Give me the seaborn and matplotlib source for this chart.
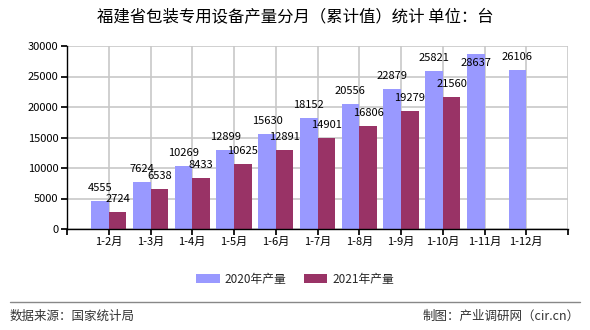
import matplotlib
matplotlib.use("Agg")
import matplotlib.pyplot as plt
import seaborn as sns
import pandas as pd
import numpy as np

categories = ["1-2月", "1-3月", "1-4月", "1-5月", "1-6月", "1-7月", "1-8月", "1-9月", "1-10月", "1-11月", "1-12月"]
values_2020 = [4555, 7624, 10269, 12899, 15630, 18152, 20556, 22879, 25821, 28637, 26106]
values_2021 = [2724, 6538, 8433, 10625, 12891, 14901, 16806, 19279, 21560, None, None]
series_names = ["2020年产量", "2021年产量"]
yticks = [0, 5000, 10000, 15000, 20000, 25000, 30000]

sns.set_theme(style="white")
plt.rcParams['font.family'] = ['Noto Sans CJK SC', 'DejaVu Sans']

df = pd.DataFrame({
    "cat": categories * 2,
    "val": [np.nan if v is None else v for v in values_2020 + values_2021],
    "series": [series_names[0]] * len(categories) + [series_names[1]] * len(categories),
})

fig = plt.figure(figsize=(5.9, 3.3), dpi=100)
ax = fig.add_axes([67/590, 101/330, 501/590, 183/330])
sns.barplot(data=df, x="cat", y="val", hue="series", order=categories,
            hue_order=series_names, palette=["#9999FF", "#993366"],
            width=0.84, ax=ax, legend=True, saturation=1, errorbar=None, linewidth=0, zorder=2)

n = len(categories)
ax.set_xlim(-1, n)
ax.set_ylim(0, 30000)
ax.set_yticks(yticks)
ax.set_yticklabels([str(t) for t in yticks], fontsize=8)
ax.set_xticks(range(-1, n + 1))
ax.set_xticklabels([""] + categories + [""], fontsize=8)
ax.set_xlabel("")
ax.set_ylabel("")
for s in ["top", "right"]:
    ax.spines[s].set_visible(False)
for s in ["left", "bottom"]:
    ax.spines[s].set_color("black")
    ax.spines[s].set_linewidth(1)
    ax.spines[s].set_zorder(3)
ax.tick_params(axis="both", which="both", length=4, color="black", pad=2, bottom=True, left=True,
               labelcolor="black")

# grid lines (drawn below the bars)
grid_color = "#c8c8c8"
for xt in ax.get_xticks():
    ax.axvline(xt, color=grid_color, linewidth=1.2, zorder=0.5)
for yt in ax.get_yticks():
    ax.axhline(yt, color=grid_color, linewidth=1.2, zorder=0.5)

# value labels
px = 30000 / 183.0
for cont, vals in zip(ax.containers, [values_2020, values_2021]):
    for bar, v in zip(cont, vals):
        if v is None:
            continue
        y = v + 8 * px
        if y + 10 * px > 30000:
            y = 30000 - 22 * px
        ax.text(bar.get_x() + bar.get_width()/2, y, str(v), ha="center", va="bottom",
                fontsize=8, color="black", zorder=4)

leg = ax.legend(loc="center", bbox_to_anchor=(0.5, 1 - 279/330), bbox_transform=fig.transFigure,
                ncol=2, frameon=False, fontsize=8.5, handlelength=2.0, handleheight=0.9,
                columnspacing=1.5, handletextpad=0.4)

fig.text(295/590, 1 - 17/330, "福建省包装专用设备产量分月（累计值）统计 单位：台", ha="center", va="center",
         fontsize=11.8, color="black")
fig.add_artist(plt.Line2D([10/590, 580/590], [1 - 302/330, 1 - 302/330], color="#888888", linewidth=1))
fig.text(10/590, 1 - 316/330, "数据来源：国家统计局", ha="left", va="center", fontsize=9, color="#333333")
fig.text(580/590, 1 - 316/330, "制图：产业调研网（cir.cn）", ha="right", va="center", fontsize=9, color="#333333")

fig.savefig("out.png", dpi=100, facecolor="white")
